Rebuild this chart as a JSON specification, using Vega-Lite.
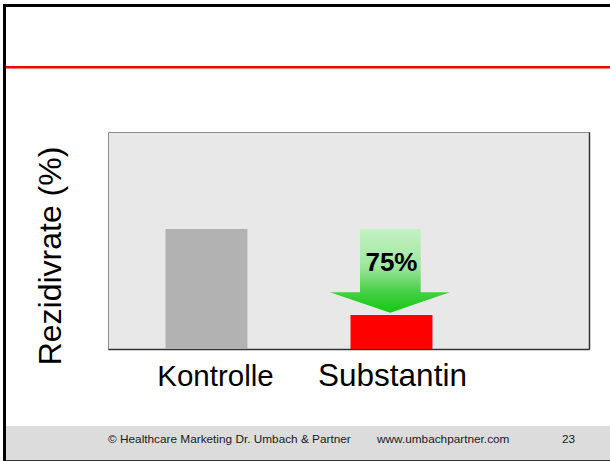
{
  "$schema": "https://vega.github.io/schema/vega-lite/v6.json",
  "usermeta": {"embedOptions": {"actions": false}},
  "background": "white",
  "padding": {"left": 3, "top": 4, "right": 0, "bottom": 0},
  "autosize": {"type": "pad"},
  "config": {
    "view": {"stroke": null},
    "font": "Liberation Sans",
    "concat": {"spacing": 0}
  },
  "datasets": {
    "none": [],
    "bars": [
      {"group": "Kontrolle", "rate": 55.3},
      {"group": "Substantin", "rate": 15.7}
    ],
    "arrow": [
      {"i": 1, "ax": 1.6676, "top": 26.13, "bot": 26.13},
      {"i": 2, "ax": 1.8297, "top": 26.13, "bot": 21.46},
      {"i": 3, "ax": 1.8298, "top": 55.3, "bot": 21.46},
      {"i": 4, "ax": 1.9935, "top": 55.3, "bot": 16.73},
      {"i": 5, "ax": 2.1577, "top": 55.3, "bot": 21.52},
      {"i": 6, "ax": 2.1578, "top": 26.13, "bot": 21.52},
      {"i": 7, "ax": 2.3162, "top": 26.13, "bot": 26.13}
    ],
    "label": [
      {"group": "Substantin", "text": "75%"}
    ],
    "footer": [
      {"part": "footer", "text": "© Healthcare Marketing Dr. Umbach & Partner\u00a0\u00a0\u00a0\u00a0\u00a0\u00a0\u00a0\u00a0www.umbachpartner.com\u00a0\u00a0\u00a0\u00a0\u00a0\u00a0\u00a0\u00a0\u00a0\u00a0\u00a0\u00a0\u00a0\u00a0\u00a0\u00a023"}
    ]
  },
  "spacing": 0,
  "vconcat": [
    {
      "width": 607, "height": 3,
      "view": {"fill": "#000000", "stroke": null},
      "data": {"name": "none"},
      "mark": "rect",
      "encoding": {}
    },
    {
      "spacing": 0,
      "hconcat": [
        {
          "width": 3, "height": 454,
          "view": {"fill": "#000000", "stroke": null},
          "data": {"name": "none"},
          "mark": "rect",
          "encoding": {}
        },
        {
          "spacing": 0,
          "vconcat": [
            {
              "width": 604, "height": 59,
              "data": {"name": "none"},
              "mark": "rect",
              "encoding": {}
            },
            {
              "width": 604, "height": 2.5,
              "view": {"fill": "#ff0000", "stroke": null},
              "data": {"name": "none"},
              "mark": "rect",
              "encoding": {}
            },
            {
              "width": 604, "height": 61.5,
              "data": {"name": "none"},
              "mark": "rect",
              "encoding": {}
            },
            {
              "bounds": "flush",
              "spacing": 0,
              "hconcat": [
                {
                  "width": 102, "height": 294,
                  "data": {"name": "none"},
                  "mark": "rect",
                  "encoding": {}
                },
                {
                  "width": 481, "height": 217,
                  "view": {"fill": "#e8e8e8", "stroke": "#8c8c8c", "strokeWidth": 1},
                  "resolve": {"scale": {"x": "independent"}, "axis": {"x": "independent", "y": "independent"}},
                  "layer": [
                    {
                      "data": {"name": "bars"},
                      "mark": {"type": "bar"},
                      "encoding": {
                        "x": {
                          "field": "group", "type": "nominal", "sort": null,
                          "scale": {"type": "band", "domain": ["Kontrolle", "Substantin"], "paddingInner": 0.557, "paddingOuter": 0.5785, "align": 0.2686, "round": false},
                          "axis": {
                            "title": null, "labelAngle": 0, "labelColor": "#000000",
                            "labelFont": "Liberation Sans", "labelBaseline": "alphabetic", "labelPadding": 36.5,
                            "ticks": false, "tickSize": 0,
                            "domainColor": "#333333", "domainWidth": 1.5, "grid": false,
                            "labelFontSize": {"condition": {"test": "datum.value === 'Kontrolle'", "value": 29.5}, "value": 31.5},
                            "labelOffset": {"condition": {"test": "datum.value === 'Kontrolle'", "value": 9}, "value": 1}
                          }
                        },
                        "y": {
                          "field": "rate", "type": "quantitative",
                          "scale": {"domain": [0, 100], "nice": false},
                          "axis": {
                            "title": "Rezidivrate (%)", "domain": false, "ticks": false, "labels": false, "grid": false,
                            "titleFont": "Liberation Sans", "titleFontSize": 32, "titleFontWeight": "normal", "titleColor": "#000000",
                            "titlePadding": 41, "titleY": 123.5
                          }
                        },
                        "color": {
                          "field": "group", "type": "nominal",
                          "scale": {"domain": ["Kontrolle", "Substantin"], "range": ["#b2b2b2", "#ff0000"]},
                          "legend": null
                        }
                      }
                    },
                    {
                      "data": {"name": "arrow"},
                      "mark": {
                        "type": "area", "orient": "vertical",
                        "fill": {
                          "gradient": "linear", "x1": 0, "y1": 0, "x2": 0, "y2": 1,
                          "stops": [
                            {"offset": 0, "color": "#c4f2c4"},
                            {"offset": 0.45, "color": "#9ee69e"},
                            {"offset": 0.75, "color": "#45d045"},
                            {"offset": 1, "color": "#12c812"}
                          ]
                        }
                      },
                      "encoding": {
                        "x": {"field": "ax", "type": "quantitative", "scale": {"domain": [0.4676, 3.0676], "nice": false, "zero": false}, "axis": null},
                        "y": {
                          "field": "top", "type": "quantitative", "scale": {"domain": [0, 100], "nice": false},
                          "axis": {"orient": "right", "title": null, "labels": false, "ticks": false, "grid": false, "domainColor": "#333333", "domainWidth": 1.5}
                        },
                        "y2": {"field": "bot"}
                      }
                    },
                    {
                      "data": {"name": "label"},
                      "mark": {"type": "text", "fontSize": 26, "fontWeight": "bold", "font": "Liberation Sans", "color": "#000000", "align": "center", "baseline": "alphabetic"},
                      "encoding": {
                        "x": {
                          "field": "group", "type": "nominal", "sort": null,
                          "scale": {"type": "band", "domain": ["Kontrolle", "Substantin"], "paddingInner": 0.557, "paddingOuter": 0.5785, "align": 0.2686, "round": false},
                          "axis": null
                        },
                        "y": {"datum": 36.1, "type": "quantitative", "scale": {"domain": [0, 100], "nice": false}, "axis": null},
                        "text": {"field": "text"}
                      }
                    }
                  ]
                }
              ]
            },
            {
              "width": 604, "height": 34,
              "view": {"fill": "#dcdcdc", "stroke": null},
              "data": {"name": "footer"},
              "mark": {"type": "text", "fontSize": 11.8, "font": "Liberation Sans", "color": "#1a1a1a", "align": "left", "baseline": "alphabetic"},
              "encoding": {
                "x": {"field": "part", "type": "nominal", "scale": {"type": "point", "padding": 0, "align": 0.1689}, "axis": null},
                "text": {"field": "text"}
              }
            },
            {
              "width": 604, "height": 1,
              "view": {"fill": "#333333", "stroke": null},
              "data": {"name": "none"},
              "mark": "rect",
              "encoding": {}
            }
          ]
        }
      ]
    }
  ]
}
